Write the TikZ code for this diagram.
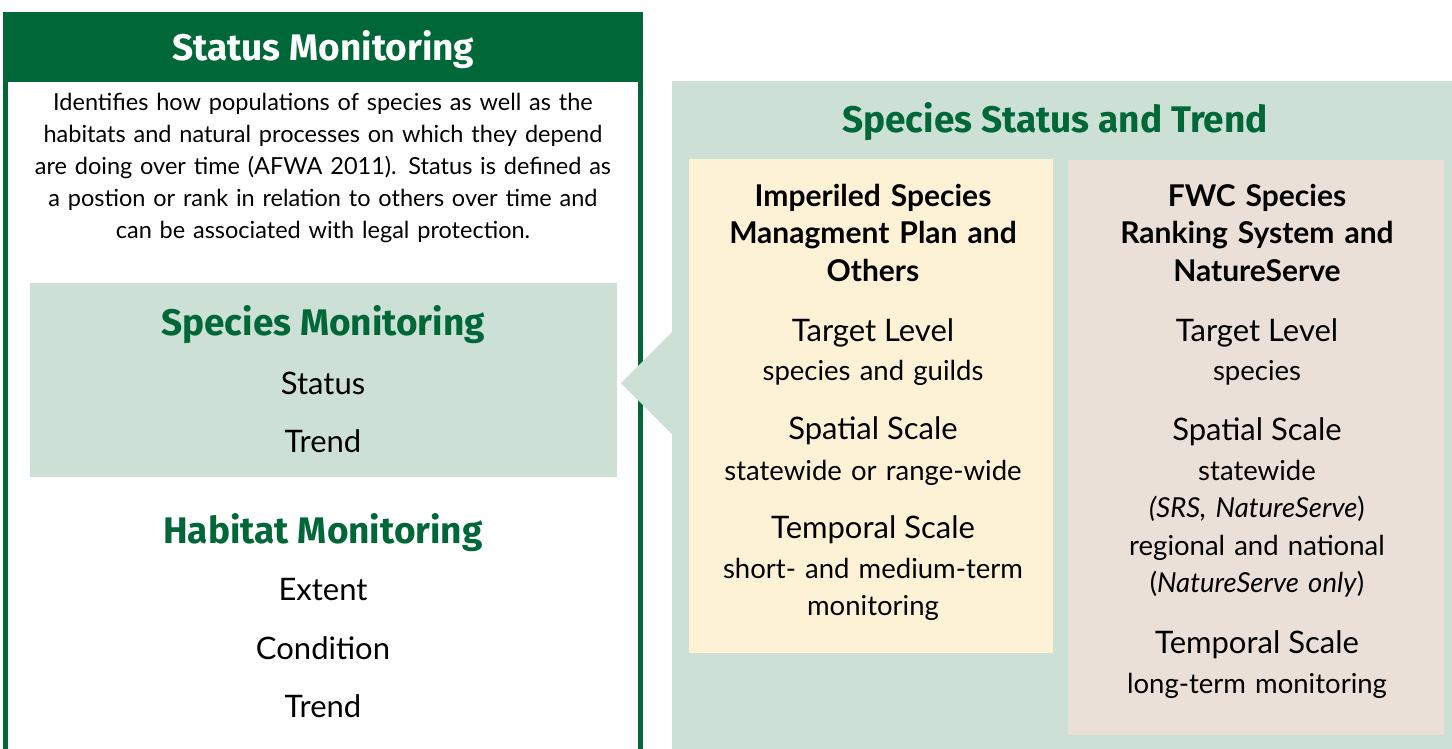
\documentclass[tikz,border=0pt]{standalone}
\usepackage{fontspec}
\setmainfont{Lato}
\newfontfamily\headfont{Fira Sans}
\usetikzlibrary{positioning}
\definecolor{fwcgreen}{RGB}{0,104,56}
\definecolor{panelgreen}{RGB}{205,224,214}
\definecolor{boxyellow}{RGB}{254,242,214}
\definecolor{boxbeige}{RGB}{234,224,215}

\begin{document}
\begin{tikzpicture}[x=1pt, y=-1pt,
  area/.style={rectangle, inner sep=0pt, anchor=north west},
  greenhead/.style={anchor=base, inner sep=0pt, text=fwcgreen, font=\headfont\bfseries\fontsize{37}{40}\selectfont},
  item/.style={anchor=base, inner sep=0pt, font=\fontsize{31}{36}\selectfont},
  colhead/.style={anchor=base, inner sep=0pt, text width=360pt, align=center, font=\bfseries\fontsize{30}{37.5}\selectfont},
  scalehead/.style={anchor=base, inner sep=0pt, font=\fontsize{31}{36}\selectfont},
  scaletext/.style={anchor=base, inner sep=0pt, text width=360pt, align=center, font=\fontsize{27.5}{37.5}\selectfont}
]
\useasboundingbox (0,0) rectangle (1452,748);
\clip (0,0) rectangle (1452,748);
\fill[white] (0,0) rectangle (1452,748);

\node[area, fill=panelgreen, minimum width=800pt, minimum height=700pt] (trendpanel) at (672,81) {};
\draw[fwcgreen, line width=5pt] (5.5,14.5) rectangle (640.5,800);
\node[area, fill=fwcgreen, minimum width=640pt, minimum height=70pt, text height=26pt, text depth=0pt, text=white, font=\headfont\bfseries\fontsize{37}{40}\selectfont] (statushead) at (3,12) {Status Monitoring};
\node[anchor=base, inner sep=0pt, text width=620pt, align=center, font=\fontsize{23.5}{32}\selectfont] (intro) at (323,110) {Identifies how populations of species as well as the\\habitats and natural processes on which they depend\\are doing over time (AFWA 2011). Status is defined as\\a postion or rank in relation to others over time and\\can be associated with legal protection.};

\node[area, fill=panelgreen, minimum width=587pt, minimum height=194pt] (speciesbox) at (30,283) {};
\coordinate (tip) at (621,383);
\fill[panelgreen] ([yshift=-251pt]trendpanel.north west) -- (tip) -- ([yshift=-353pt]trendpanel.north west) -- cycle;

\node[greenhead] (speciesmon) at (323,335) {Species Monitoring};
\node[item] (spstatus) at (323,394) {Status};
\node[item] (sptrend) at (323,452) {Trend};
\node[greenhead] (habitatmon) at (323,543) {Habitat Monitoring};
\node[item] (extent) at (323,600) {Extent};
\node[item] (condition) at (323,659) {Condition};
\node[item] (habtrend) at (323,717) {Trend};

\node[greenhead] (trendtitle) at (1055,132) {Species Status and Trend};
\node[area, fill=boxyellow, minimum width=364pt, minimum height=494pt] (planbox) at (689,159) {};
\node[area, fill=boxbeige, minimum width=376pt, minimum height=575pt] (rankbox) at (1068,160) {};

\node[colhead] (planhead) at (873,206) {Imperiled Species\\Managment Plan and\\Others};
\node[scalehead] (plantarget) at (873,341) {Target Level};
\node[scaletext] (planlevel) at (873,380) {species and guilds};
\node[scalehead] (planspatial) at (873,439) {Spatial Scale};
\node[scaletext] (planarea) at (873,480) {statewide or range-wide};
\node[scalehead] (plantemporal) at (873,538) {Temporal Scale};
\node[scaletext] (planterm) at (873,578) {short- and medium-term\\monitoring};

\node[colhead] (rankhead) at (1257,206) {FWC Species\\Ranking System and\\NatureServe};
\node[scalehead] (ranktarget) at (1257,341) {Target Level};
\node[scaletext] (ranklevel) at (1257,380) {species};
\node[scalehead] (rankspatial) at (1257,440) {Spatial Scale};
\node[scaletext] (rankarea) at (1257,480) {statewide\\\textit{(SRS, NatureServe})\\regional and national\\(\textit{NatureServe only})};
\node[scalehead] (ranktemporal) at (1257,653) {Temporal Scale};
\node[scaletext] (rankterm) at (1257,693) {long-term monitoring};
\end{tikzpicture}
\end{document}
